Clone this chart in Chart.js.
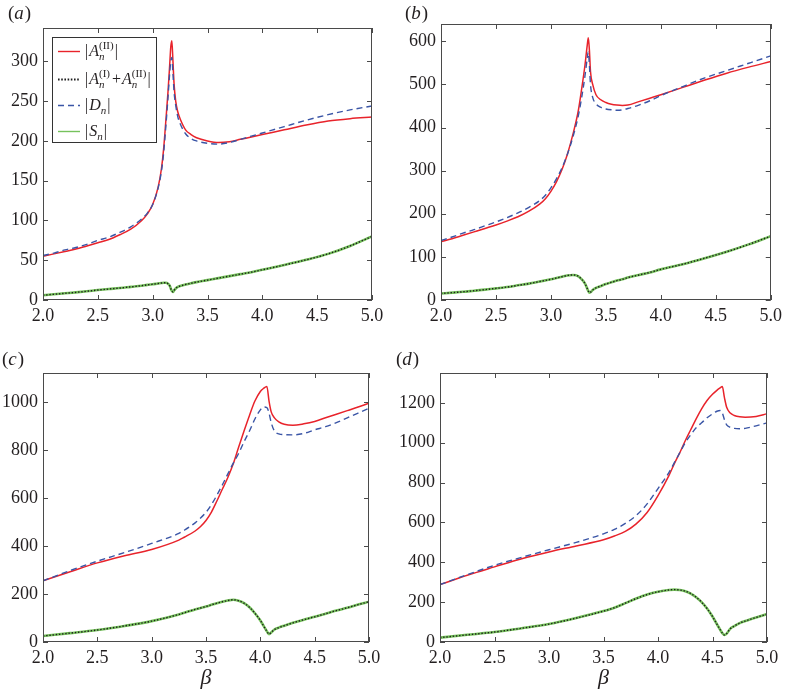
<!DOCTYPE html>
<html><head><meta charset="utf-8">
<script src="https://cdn.jsdelivr.net/npm/chart.js@4/dist/chart.umd.min.js"></script>
<style>
html,body{margin:0;padding:0;background:#fff;}
#wrap{position:relative;width:787px;height:693px;overflow:hidden;background:#fff;}
canvas{position:absolute;}
</style></head><body>
<div id="wrap">
<canvas id="ca" width="390" height="340" style="left:0px;top:0px"></canvas>
<canvas id="cb" width="397" height="340" style="left:390px;top:0px"></canvas>
<canvas id="cc" width="390" height="353" style="left:0px;top:340px"></canvas>
<canvas id="cd" width="397" height="353" style="left:390px;top:340px"></canvas>
</div>
<script>
// ---------- tick labels ----------
const xTicks = [2.0, 2.5, 3.0, 3.5, 4.0, 4.5, 5.0];
const xTickLabels = ['2.0', '2.5', '3.0', '3.5', '4.0', '4.5', '5.0'];
const yTicksA = [0, 50, 100, 150, 200, 250, 300];
const yTicksB = [0, 100, 200, 300, 400, 500, 600];
const yTicksC = [0, 200, 400, 600, 800, 1000];
const yTicksD = [0, 200, 400, 600, 800, 1000, 1200];
const panelLabels = ['a', 'b', 'c', 'd'];
const legendLabels = ['|A_n^(II)|', '|A_n^(I)+A_n^(II)|', '|D_n|', '|S_n|'];

// ---------- panel (a) ----------
const betaA = [2.0,2.1,2.2,2.3,2.4,2.5,2.6,2.7,2.8,2.9,2.95,3.0,3.05,3.08,3.1,3.12,3.14,3.155,3.165,3.175,3.185,3.195,3.21,3.23,3.25,3.3,3.35,3.4,3.5,3.6,3.7,3.8,3.9,4.0,4.2,4.4,4.6,4.8,5.0];
const a2A  = [55,58,61,64,68,72,76,82,89,100,108,120,142,165,190,225,262,295,318,326,300,272,250,236,228,214,208,204,200,198,199,202,205,208,214,220,225,228,230];
const dA   = [56,59,63,66,70,75,79,85,92,102,109,120,141,162,185,218,255,285,300,305,285,262,245,230,222,209,203,200,197,196,198,202,206,210,218,226,233,239,244];
const sA   = [6,7.2,8.4,9.6,11,12.5,13.8,15,16.5,18,19,19.8,20.8,21.3,21.6,21.6,20.5,18,14.5,11.5,10,12,14.5,16.5,17.5,19.5,21,22.5,25,27.5,30,32.5,35,38,44,50.5,58,68,80];
const sumA = [6,7.2,8.4,9.6,11,12.5,13.8,15,16.5,18,19,19.8,20.8,21.3,21.6,21.6,20.5,18,14.5,11.5,10,12,14.5,16.5,17.5,19.5,21,22.5,25,27.5,30,32.5,35,38,44,50.5,58,68,80];

// ---------- panel (b) ----------
const betaB = [2.0,2.1,2.2,2.3,2.4,2.5,2.6,2.7,2.8,2.9,2.95,3.0,3.05,3.1,3.15,3.2,3.25,3.28,3.31,3.33,3.34,3.35,3.36,3.38,3.41,3.45,3.5,3.55,3.6,3.65,3.7,3.8,3.9,4.0,4.2,4.4,4.6,4.8,5.0];
const a2B  = [135,142,150,158,166,174,183,193,206,223,235,252,274,302,338,384,440,490,545,590,608,580,530,500,476,465,458,454,452,451,452,460,468,476,493,510,526,540,553];
const dB   = [138,146,155,163,172,181,191,202,215,231,243,260,281,306,338,378,428,470,520,560,575,545,500,470,455,447,443,441,440,441,444,452,462,474,495,515,532,549,566];
const sB   = [15,17,19,21.5,24,27,30,34,38,43,45.5,48,51,54,57,58,55,48,38,27,21,17,18,23,28,32,37,41,45,48,52,58,64,71,83,97,112,129,148];
const sumB = [15,17,19,21.5,24,27,30,34,38,43,45.5,48,51,54,57,58,55,48,38,27,21,17,18,23,28,32,37,41,45,48,52,58,64,71,83,97,112,129,148];

// ---------- panel (c) ----------
const betaC = [2.0,2.25,2.5,2.75,3.0,3.25,3.3,3.4,3.45,3.5,3.55,3.6,3.65,3.7,3.75,3.8,3.85,3.9,3.95,4.0,4.03,4.06,4.08,4.1,4.13,4.17,4.22,4.3,4.4,4.5,4.6,4.7,4.8,4.9,5.0];
const a2C  = [255,293,330,360,386,425,437,463,482,507,542,588,637,685,742,812,880,945,1005,1045,1058,1066,1005,960,935,918,908,904,910,920,935,950,965,980,996];
const dC   = [255,298,337,373,411,453,466,497,517,541,573,612,655,700,745,786,835,880,930,968,980,978,955,915,880,868,865,864,870,885,898,915,935,955,975];
const sC   = [25,37,50,67,87,115,122,136,142,148,155,162,168,173,176,172,162,145,120,90,67,45,33,40,52,60,68,80,93,105,118,131,143,156,168];
const sumC = [25,37,50,67,87,115,122,136,142,148,155,162,168,173,176,172,162,145,120,90,67,45,33,40,52,60,68,80,93,105,118,131,143,156,168];

// ---------- panel (d) ----------
const betaD = [2.0,2.25,2.5,2.75,3.0,3.25,3.5,3.6,3.7,3.8,3.9,4.0,4.1,4.15,4.2,4.25,4.3,4.35,4.4,4.45,4.5,4.54,4.57,4.59,4.61,4.63,4.66,4.7,4.75,4.8,4.9,5.0];
const a2D  = [288,335,377,418,452,482,513,532,555,593,650,735,835,895,950,1010,1065,1120,1170,1212,1243,1263,1275,1282,1225,1178,1150,1137,1130,1128,1132,1145];
const dD   = [288,338,385,425,463,500,543,565,595,635,693,770,850,900,950,1000,1040,1075,1100,1125,1145,1158,1162,1150,1115,1090,1078,1072,1070,1072,1085,1100];
const sD   = [22,36,50,69,90,120,155,172,195,218,238,252,261,263,261,255,243,225,200,168,128,90,62,45,35,42,65,80,95,105,123,140];
const sumD = [22,36,50,69,90,120,155,172,195,218,238,252,261,263,261,255,243,225,200,168,128,90,62,45,35,42,65,80,95,105,123,140];

// ---------- drawing helpers ----------
const SERIF = "'Liberation Serif', 'Times New Roman', serif";
const TXT = '#231f20';
const RED = '#e8232b', BLUE = '#3a55a6', GREEN = '#76c25c', BLACK = '#1e1e1e';

function drawMath(ctx, str, x, y) {
  const big = 16, small = 11;
  let cx = x;
  let i = 0;
  while (i < str.length) {
    const ch = str[i];
    if (ch === '|' || ch === '+') {
      ctx.font = `${big}px ${SERIF}`;
      if (ch === '+') cx += 1;
      ctx.fillText(ch, cx, y);
      cx += ctx.measureText(ch).width + 1;
      i++;
    } else {
      ctx.font = `italic ${big}px ${SERIF}`;
      ctx.fillText(ch, cx, y);
      cx += ctx.measureText(ch).width;
      i++;
      let sub = null, sup = null;
      while (i < str.length && (str[i] === '_' || str[i] === '^')) {
        const kind = str[i]; i++;
        let tok = '';
        if (str[i] === '(') { const j = str.indexOf(')', i); tok = str.slice(i, j + 1); i = j + 1; }
        else { tok = str[i]; i++; }
        if (kind === '_') sub = tok; else sup = tok;
      }
      let w = 0;
      if (sup) { ctx.font = `${small}px ${SERIF}`; ctx.fillText(sup, cx, y - 6); w = Math.max(w, ctx.measureText(sup).width); }
      if (sub) { ctx.font = `italic ${small}px ${SERIF}`; ctx.fillText(sub, cx, y + 5); w = Math.max(w, ctx.measureText(sub).width); }
      cx += w + 1;
    }
  }
}

const framePlugin = {
  id: 'frame',
  afterDatasetsDraw(chart) {
    const { ctx, chartArea: a, scales: { x, y } } = chart;
    const o = chart.options.plugins.frame;
    ctx.save();
    ctx.strokeStyle = '#4a4a4a';
    ctx.lineWidth = 1;
    ctx.strokeRect(Math.round(a.left) + 0.5, Math.round(a.top) + 0.5, Math.round(a.right - a.left) - 1, Math.round(a.bottom - a.top) - 1);
    const L = 5;
    ctx.beginPath();
    x.ticks.forEach(t => {
      const px = Math.round(x.getPixelForValue(t.value)) + 0.5;
      ctx.moveTo(px, a.bottom); ctx.lineTo(px, a.bottom - L);
      ctx.moveTo(px, a.top); ctx.lineTo(px, a.top + L);
    });
    y.ticks.forEach(t => {
      const py = Math.round(y.getPixelForValue(t.value)) + 0.5;
      ctx.moveTo(a.left, py); ctx.lineTo(a.left + L, py);
      ctx.moveTo(a.right, py); ctx.lineTo(a.right - L, py);
    });
    ctx.stroke();

    ctx.fillStyle = TXT;
    ctx.textBaseline = 'middle';
    ctx.textAlign = 'left';
    let lx = o.labelX;
    ctx.font = `19px ${SERIF}`;
    ctx.fillText('(', lx, o.labelY); lx += ctx.measureText('(').width;
    ctx.font = `italic 19px ${SERIF}`;
    ctx.fillText(o.label, lx, o.labelY); lx += ctx.measureText(o.label).width + 1;
    ctx.font = `19px ${SERIF}`;
    ctx.fillText(')', lx, o.labelY);

    if (o.legend) {
      const bx = 52, by = 37, bw = 104, bh = 105;
      ctx.fillStyle = '#fff';
      ctx.fillRect(bx, by, bw, bh);
      ctx.strokeStyle = '#333';
      ctx.strokeRect(bx + 0.5, by + 0.5, bw, bh);
      const rows = [51, 79, 105, 131];
      const styles = [
        { c: RED, w: 1.4, d: [] },
        { c: BLACK, w: 1.8, d: [1.6, 1.6] },
        { c: BLUE, w: 1.4, d: [6, 4] },
        { c: GREEN, w: 1.4, d: [] }
      ];
      rows.forEach((ry, k) => {
        const s = styles[k];
        ctx.beginPath();
        ctx.setLineDash(s.d);
        ctx.strokeStyle = s.c; ctx.lineWidth = s.w;
        ctx.moveTo(58, ry + 0.5); ctx.lineTo(80, ry + 0.5);
        ctx.stroke();
        ctx.setLineDash([]);
        ctx.fillStyle = TXT;
        ctx.textBaseline = 'middle';
        drawMath(ctx, legendLabels[k], 85, ry + 1);
      });
    }
    ctx.restore();
  }
};

function makePanel(id, beta, series, yTicks, yMax, geo, labelIdx, showLegend, showTitle) {
  const pts = arr => beta.map((b, i) => ({ x: b, y: arr[i] }));
  const common = { pointRadius: 0, fill: false, cubicInterpolationMode: 'monotone', borderCapStyle: 'butt' };
  new Chart(document.getElementById(id), {
    type: 'line',
    data: {
      datasets: [
        Object.assign({ label: '|A(I)+A(II)|', data: pts(series.sum), borderColor: BLACK, borderWidth: 1.4, borderDash: [1.4, 1.8] }, common),
        Object.assign({ label: '|S_n|', data: pts(series.s), borderColor: GREEN, borderWidth: 2.6 }, common),
        Object.assign({ label: '|D_n|', data: pts(series.d), borderColor: BLUE, borderWidth: 1.4, borderDash: [6, 4] }, common),
        Object.assign({ label: '|A(II)|', data: pts(series.a2), borderColor: RED, borderWidth: 1.5 }, common)
      ]
    },
    options: {
      responsive: false,
      animation: false,
      devicePixelRatio: 1,
      layout: { padding: { top: geo.top, right: geo.right, left: 0, bottom: 0 } },
      plugins: {
        legend: { display: false },
        tooltip: { enabled: false },
        frame: { label: panelLabels[labelIdx], labelX: geo.lx, labelY: geo.ly, legend: showLegend }
      },
      scales: {
        x: {
          type: 'linear', min: 2, max: 5,
          grid: { display: false, drawTicks: false },
          border: { display: false },
          afterBuildTicks: s => { s.ticks = xTicks.map(v => ({ value: v })); },
          afterFit: s => { s.height = geo.xh; },
          ticks: {
            padding: 5, maxRotation: 0, autoSkip: false,
            color: TXT, font: { family: SERIF, size: 18 },
            callback: (v, i) => xTickLabels[i]
          },
          title: {
            display: showTitle, text: 'β', color: TXT,
            font: { family: SERIF, size: 22, style: 'italic' },
            padding: { top: 0, bottom: 2 }
          }
        },
        y: {
          type: 'linear', min: 0, max: yMax,
          grid: { display: false, drawTicks: false },
          border: { display: false },
          afterBuildTicks: s => { s.ticks = yTicks.map(v => ({ value: v })); },
          afterFit: s => { s.width = geo.yw; },
          ticks: {
            padding: 5, autoSkip: false,
            color: TXT, font: { family: SERIF, size: 18 },
            callback: v => String(v)
          }
        }
      }
    },
    plugins: [framePlugin]
  });
}

makePanel('ca', betaA, { a2: a2A, d: dA, s: sA, sum: sumA }, yTicksA, 342,
  { top: 28, right: 18, xh: 40, yw: 43, lx: 8, ly: 14 }, 0, true, false);
makePanel('cb', betaB, { a2: a2B, d: dB, s: sB, sum: sumB }, yTicksB, 640,
  { top: 24, right: 12, xh: 40, yw: 51, lx: 15, ly: 14 }, 1, false, false);
makePanel('cc', betaC, { a2: a2C, d: dC, s: sC, sum: sumC }, yTicksC, 1122,
  { top: 33, right: 21, xh: 51, yw: 43, lx: 2, ly: 20 }, 2, false, true);
makePanel('cd', betaD, { a2: a2D, d: dD, s: sD, sum: sumD }, yTicksD, 1350,
  { top: 33, right: 20, xh: 51, yw: 50, lx: 6, ly: 20 }, 3, false, true);
</script>
</body></html>
